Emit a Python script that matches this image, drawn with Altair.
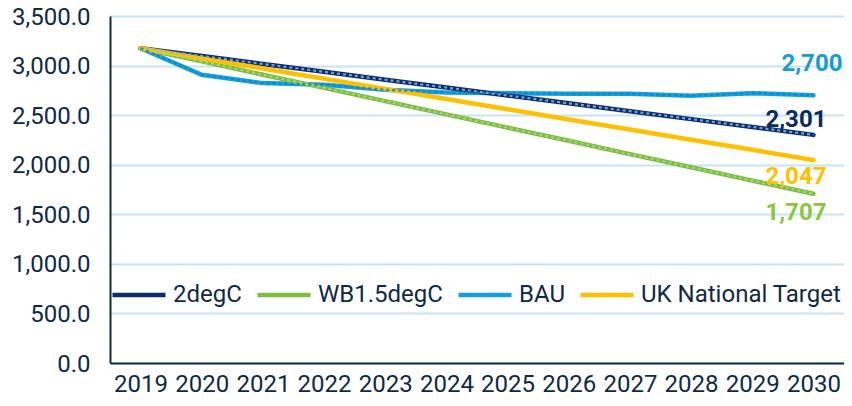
import altair as alt
import pandas as pd

years = ["2019", "2020", "2021", "2022", "2023", "2024", "2025", "2026", "2027", "2028", "2029", "2030"]
bau = [3175, 2907, 2823, 2806, 2756, 2729, 2722, 2715, 2715, 2695, 2722, 2700]
wb15 = [3175, 3042, 2908, 2775, 2641, 2508, 2374, 2241, 2107, 1974, 1840, 1707]
deg2 = [3175, 3096, 3016, 2937, 2857, 2778, 2698, 2619, 2540, 2460, 2381, 2301]
uk = [3175, 3072, 2970, 2867, 2765, 2662, 2560, 2457, 2355, 2252, 2150, 2047]

legend_order = ["2degC", "WB1.5degC", "BAU", "UK National Target"]
series = {"BAU": bau, "WB1.5degC": wb15, "2degC": deg2, "UK National Target": uk}
line_colors = {"2degC": "#0b2d6b", "WB1.5degC": "#7cbd42", "BAU": "#14a0e0", "UK National Target": "#ffc000"}
dot_colors = {"2degC": "#7fb0e6", "WB1.5degC": "#a3dc72", "BAU": "#0a86c8"}
label_colors = {"2degC": "#0b2a5e", "WB1.5degC": "#8cc63f", "BAU": "#1a9ad6", "UK National Target": "#ffc000"}
label_offsets = {"BAU": (29, -31), "2degC": (13, -15), "UK National Target": (13, 17), "WB1.5degC": (13, 19)}

rows = []
for name, vals in series.items():
    for i, (yr, v) in enumerate(zip(years, vals)):
        rows.append({"Year": yr, "Value": v, "Series": name, "idx": i})
df = pd.DataFrame(rows)

AXIS_COLOR = "#0e2a47"
FONT = "Roboto"
FS = 24

x_scale = alt.Scale(type="point", padding=0.5)
x_enc = alt.X("Year:O", sort=years, scale=x_scale,
              axis=alt.Axis(title=None, labelAngle=0, ticks=False, grid=False,
                            domainColor=AXIS_COLOR, domainWidth=2, labelFontSize=FS,
                            labelColor=AXIS_COLOR, labelFont=FONT, labelPadding=9))
y_enc = alt.Y("Value:Q", scale=alt.Scale(domain=[0, 3500], nice=False),
              axis=alt.Axis(title=None, values=[0, 500, 1000, 1500, 2000, 2500, 3000, 3500],
                            format=",.1f", ticks=False, domainColor=AXIS_COLOR, domainWidth=2,
                            gridColor="#c6e3f8", gridWidth=2, labelFontSize=FS, labelOffset=1,
                            labelColor=AXIS_COLOR, labelFont=FONT, labelPadding=20))

base = alt.Chart(df).mark_line(strokeWidth=4.5, strokeCap="round").encode(
    x=x_enc, y=y_enc,
    color=alt.Color("Series:N",
                    scale=alt.Scale(domain=legend_order, range=[line_colors[s] for s in legend_order]),
                    legend=alt.Legend(title=None, orient="none", legendX=0, legendY=250,
                                      direction="horizontal", columns=4, symbolType="stroke",
                                      symbolSize=2809, symbolStrokeWidth=4.5, labelFontSize=FS,
                                      labelFont=FONT, labelColor=AXIS_COLOR, labelOffset=5,
                                      columnPadding=6, labelLimit=400)),
    detail="Series:N",
    order="idx:Q",
)

layers = [base]
for name, c in dot_colors.items():
    sub = df[df["Series"] == name]
    layers.append(alt.Chart(sub).mark_line(strokeWidth=2.2, strokeDash=[3, 3], color=c, opacity=0.9).encode(
        x=alt.X("Year:O", sort=years, scale=x_scale), y="Value:Q", order="idx:Q"))

for name, vals in series.items():
    dx, dy = label_offsets[name]
    lab = pd.DataFrame({"Year": [years[-1]], "Value": [vals[-1]]})
    layers.append(alt.Chart(lab).mark_text(align="right", baseline="middle", dx=dx, dy=dy,
                                           fontSize=FS, fontWeight="bold", font=FONT,
                                           color=label_colors[name]).encode(
        x=alt.X("Year:O", sort=years, scale=x_scale), y="Value:Q",
        text=alt.Text("Value:Q", format=",.0f")))

chart = alt.layer(*layers).properties(
    width=734, height=347,
    autosize=alt.AutoSizeParams(type="none"),
    padding={"left": 102, "top": 8, "right": 0, "bottom": 35},
).configure_view(stroke=None).configure(background="white")

chart.save("out.html", embed_options={"renderer": "svg", "actions": False})
